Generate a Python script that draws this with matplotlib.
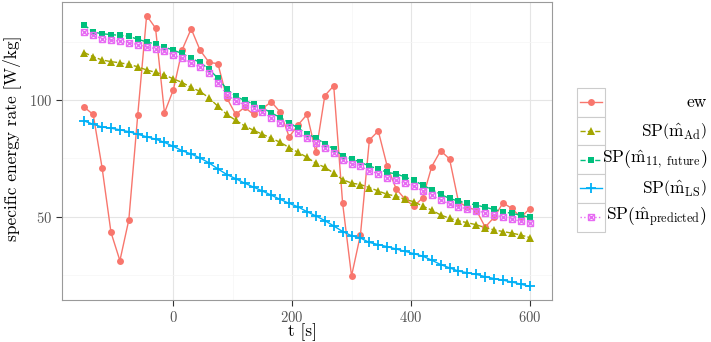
import matplotlib
matplotlib.use("Agg")
import matplotlib.pyplot as plt
from matplotlib.lines import Line2D
from matplotlib.patches import Rectangle
import numpy as np

plt.rcParams['font.family'] = ['cmr10', 'DejaVu Serif']
plt.rcParams['mathtext.fontset'] = 'cm'
plt.rcParams['axes.formatter.use_mathtext'] = True
plt.rcParams['axes.unicode_minus'] = False

t = list(range(-150, 601, 15))

ew = [97.0, 93.9, 71.0, 43.2, 31.1, 48.6, 93.6, 136.4, 131.0, 94.6,
      104.5, 121.8, 130.7, 121.5, 116.3, 115.7, 101.0, 93.9, 97.0, 93.9,
      96.5, 99.3, 94.9, 84.3, 89.4, 93.9, 77.6, 102.0, 106.2, 55.7,
      24.5, 42.2, 82.9, 86.8, 71.7, 62.0, 57.5, 54.5, 58.1, 71.5,
      78.3, 74.8, 56.4, 54.0, 52.8, 45.5, 49.7, 55.9, 53.5, 49.7, 53.4]

sp_ad = [120.5, 118.7, 117.3, 116.6, 116.1, 115.4, 114.4, 113.0, 112.0, 110.9,
         109.2, 107.6, 105.5, 103.8, 101.0, 97.4, 93.9, 91.4, 89.0, 87.1,
         85.4, 83.7, 81.9, 79.7, 77.6, 75.5, 72.9, 71.2, 68.7, 65.9,
         64.4, 63.8, 62.5, 61.0, 59.6, 58.8, 57.4, 56.4, 54.5, 52.8,
         50.7, 49.3, 48.2, 47.4, 46.5, 45.3, 44.3, 43.6, 42.9, 42.1, 41.0]

sp_11f = [132.4, 129.3, 128.6, 128.2, 127.9, 127.5, 126.2, 125.1, 124.1, 122.9,
          121.5, 120.1, 118.0, 116.3, 113.3, 109.5, 104.8, 101.7, 99.9, 98.4,
          96.7, 94.6, 92.5, 90.4, 88.0, 85.7, 83.7, 81.4, 79.0, 76.2,
          74.8, 73.4, 71.7, 70.5, 69.0, 68.4, 67.0, 65.6, 63.5, 61.6,
          59.6, 57.8, 56.7, 55.7, 55.0, 54.0, 53.1, 52.1, 51.4, 50.6, 49.7]

sp_ls = [91.1, 89.7, 88.5, 88.0, 87.3, 86.5, 85.4, 84.3, 83.3, 81.9,
         80.2, 78.3, 76.9, 75.2, 73.1, 70.5, 68.1, 66.3, 64.4, 62.7,
         61.0, 59.2, 57.4, 55.7, 54.2, 52.1, 50.3, 48.3, 46.0, 43.6,
         41.8, 40.8, 38.9, 38.0, 37.1, 36.1, 35.1, 34.1, 33.0, 31.3,
         29.4, 28.0, 26.6, 25.9, 25.2, 24.2, 23.4, 22.7, 21.9, 21.0, 20.0]

sp_pred = [129.3, 127.9, 126.5, 125.8, 125.4, 124.8, 123.9, 122.9, 122.2, 121.1,
           119.4, 118.0, 115.9, 114.2, 111.6, 107.4, 102.4, 99.8, 98.0, 96.6,
           94.9, 92.5, 90.4, 88.4, 86.0, 83.8, 81.6, 79.4, 77.2, 74.4,
           72.8, 71.6, 69.8, 68.4, 66.8, 65.6, 64.4, 63.0, 61.0, 59.2,
           57.2, 55.4, 54.2, 53.3, 52.6, 51.6, 50.7, 49.8, 48.9, 48.0, 47.2]

labels = ['ew',
          r'SP$\left(\hat{\mathrm{m}}_{\mathrm{Ad}}\right)$',
          r'SP$\left(\hat{\mathrm{m}}_{\mathrm{11,\ future}}\right)$',
          r'SP$\left(\hat{\mathrm{m}}_{\mathrm{LS}}\right)$',
          r'SP$\left(\hat{\mathrm{m}}_{\mathrm{predicted}}\right)$']
colors = ['#F8766D', '#A3A500', '#00BF7D', '#00B0F6', '#E76BF3']
x_ticks = [0, 200, 400, 600]
y_ticks = [50, 100]

W, H = 711, 342
fig = plt.figure(figsize=(W / 100, H / 100), dpi=100)
ax = fig.add_axes([62 / W, 1 - 300 / H, 490 / W, 298 / H])

styles = [
    dict(ls='-', marker='o', ms=5.0, mew=0),
    dict(ls='--', marker='^', ms=6.0, mew=0),
    dict(ls='--', marker='s', ms=4.8, mew=0),
    dict(ls='-', marker='+', ms=7.0, mew=1.3),
    dict(ls=':', marker='s', ms=4.8, mew=1.0, mfc='none'),
]
series = [ew, sp_ad, sp_11f, sp_ls, sp_pred]
for i, (ys, c, st) in enumerate(zip(series, colors, styles)):
    ax.plot(t, ys, color=c, lw=1.0, zorder=3 + i, **st)
    if i == 4:
        ax.plot(t, ys, color=c, ls='none', marker='x', ms=4.2, mew=1.0, zorder=3 + i)

ax.margins(x=0.05, y=0.05)
ax.set_xticks(x_ticks)
ax.set_yticks(y_ticks)
ax.set_xticks([100, 300, 500], minor=True)
ax.set_yticks([25, 75, 125], minor=True)
ax.grid(True, which='major', color='#E5E5E5', lw=0.8, zorder=0)
ax.grid(True, which='minor', color='#F5F5F5', lw=0.5, zorder=0)
ax.set_axisbelow(True)
ax.tick_params(which='minor', length=0)
ax.tick_params(which='major', length=4, width=0.8, color='#333333',
               labelcolor='#555555', labelsize=10.5, pad=3)
for s in ax.spines.values():
    s.set_color('#9A9A9A')
    s.set_linewidth(0.8)

fig.text(12 / W, 1 - 138 / H, 'specific energy rate [W/kg]', rotation=90,
         ha='center', va='center', fontsize=12.5)
fig.text(302 / W, 1 - 341 / H, 't [s]', ha='center', va='bottom', fontsize=12.5)

# legend drawn manually
key_x0, key_w, key_h = 577, 28, 28.7
key_top = 88
for i, (lab, c, st) in enumerate(zip(labels, colors, styles)):
    y0 = key_top + i * key_h
    fig.add_artist(Rectangle((key_x0 / W, 1 - (y0 + key_h) / H), key_w / W, key_h / H,
                             transform=fig.transFigure, facecolor='white',
                             edgecolor='#CCCCCC', lw=0.8))
    yc = 1 - (y0 + key_h / 2) / H
    xs = [(key_x0 + 3) / W, (key_x0 + key_w / 2) / W, (key_x0 + key_w - 3) / W]
    fig.add_artist(Line2D(xs, [yc] * 3, transform=fig.transFigure, color=c, lw=1.0,
                          markevery=[1], **st))
    if i == 4:
        fig.add_artist(Line2D([xs[1]], [yc], transform=fig.transFigure, color=c,
                              ls='none', marker='x', ms=4.2, mew=1.0))
    fig.text(707 / W, yc, lab, ha='right', va='center', fontsize=12.5)

fig.savefig('out.png', dpi=100)
